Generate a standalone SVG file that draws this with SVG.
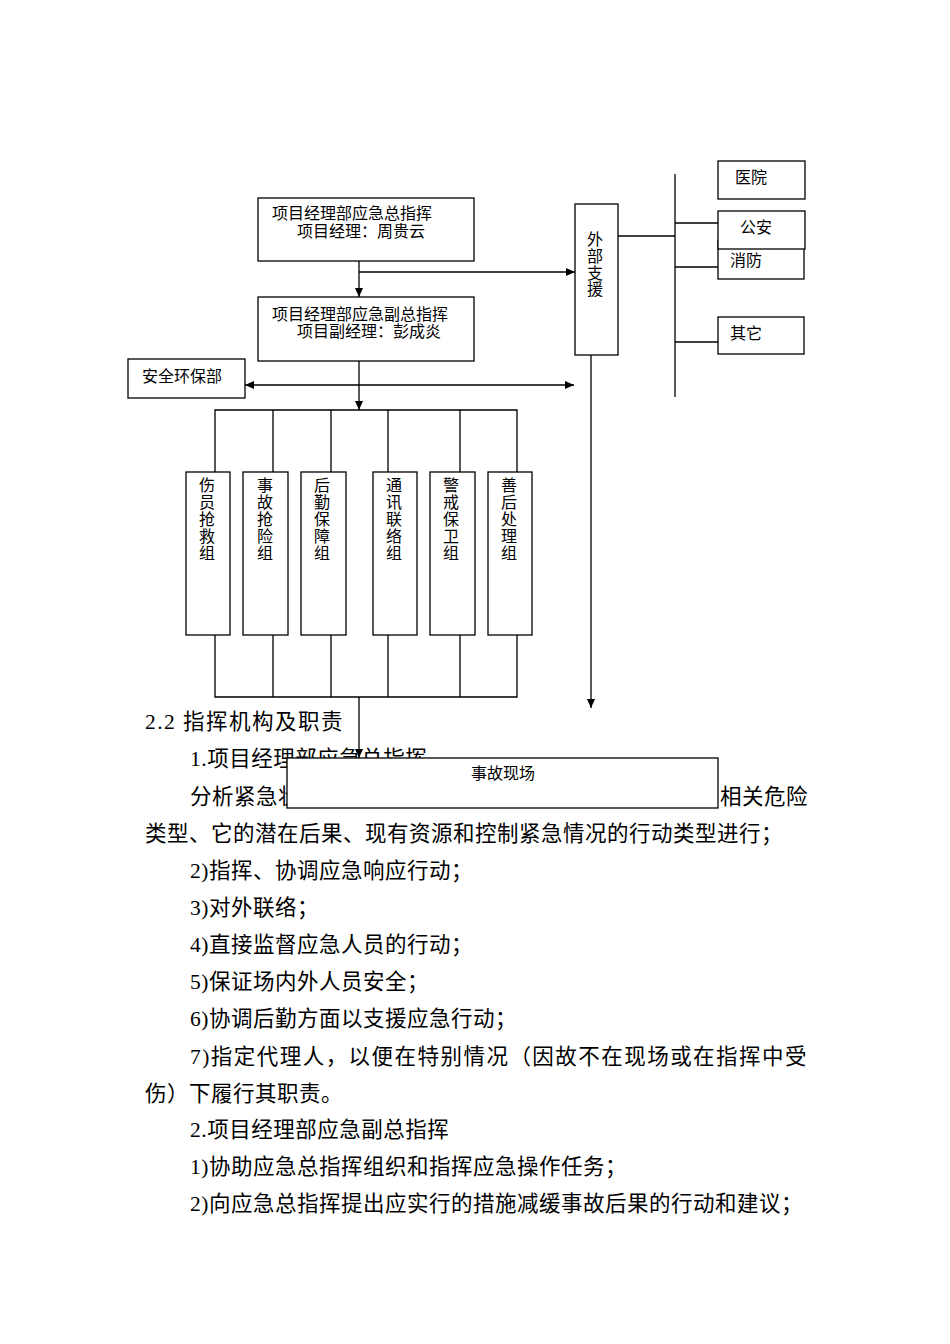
<svg xmlns="http://www.w3.org/2000/svg" width="950" height="1344" viewBox="0 0 950 1344">
<style>
.bx{fill:#fff;stroke:#000;stroke-width:1.3}
.ln{fill:none;stroke:#000;stroke-width:1.3}
.nt{font-family:"Liberation Serif","Noto Sans CJK SC",serif;font-size:16px;fill:#000}
.vt{font-family:"Liberation Serif","Noto Sans CJK SC",serif;font-size:16px;fill:#000;text-anchor:middle}
.bt{font-family:"Liberation Serif","Noto Sans CJK SC",serif;font-size:21.5px;letter-spacing:0.5px;fill:#000}
</style>
<defs>
<marker id="ah" markerUnits="userSpaceOnUse" markerWidth="10" markerHeight="10" refX="9" refY="4" orient="auto-start-reverse">
<path d="M0,0 L9,4 L0,8 Z" fill="#000"/>
</marker>
</defs>
<rect width="950" height="1344" fill="#fff"/>

<g id="body-text">
<text class="bt" x="145" y="729" font-size="22" textLength="198" lengthAdjust="spacing">2.2 指挥机构及职责</text>
<text class="bt" x="190" y="766">1.项目经理部应急总指挥</text>
<text class="bt" x="190" y="804">分析紧急状态</text>
<text class="bt" x="720" y="804">相关危险</text>
<text class="bt" x="145" y="841">类型、它的潜在后果、现有资源和控制紧急情况的行动类型进行；</text>
<text class="bt" x="190" y="878">2)指挥、协调应急响应行动；</text>
<text class="bt" x="190" y="915">3)对外联络；</text>
<text class="bt" x="190" y="952">4)直接监督应急人员的行动；</text>
<text class="bt" x="190" y="989">5)保证场内外人员安全；</text>
<text class="bt" x="190" y="1026">6)协调后勤方面以支援应急行动；</text>
<text class="bt" x="190" y="1064" textLength="617" lengthAdjust="spacing">7)指定代理人，以便在特别情况（因故不在现场或在指挥中受</text>
<text class="bt" x="145" y="1101">伤）下履行其职责。</text>
<text class="bt" x="190" y="1137">2.项目经理部应急副总指挥</text>
<text class="bt" x="190" y="1174">1)协助应急总指挥组织和指挥应急操作任务；</text>
<text class="bt" x="190" y="1211">2)向应急总指挥提出应实行的措施减缓事故后果的行动和建议；</text>
</g>

<g id="connectors">
<line class="ln" x1="359" y1="261" x2="359" y2="297" marker-end="url(#ah)"/>
<line class="ln" x1="359" y1="272" x2="575" y2="272" marker-end="url(#ah)"/>
<line class="ln" x1="359" y1="361" x2="359" y2="410" marker-end="url(#ah)"/>
<line class="ln" x1="245" y1="385" x2="574" y2="385" marker-start="url(#ah)" marker-end="url(#ah)"/>
<line class="ln" x1="591" y1="355" x2="591" y2="708" marker-end="url(#ah)"/>
<line class="ln" x1="618" y1="236" x2="675" y2="236"/>
<line class="ln" x1="675" y1="174" x2="675" y2="397"/>
<line class="ln" x1="675" y1="223" x2="718" y2="223"/>
<line class="ln" x1="675" y1="267" x2="718" y2="267"/>
<line class="ln" x1="675" y1="342" x2="718" y2="342"/>
<path class="ln" d="M215,472 V410 H517 V472 M273,410 V472 M331,410 V472 M388,410 V472 M460,410 V472"/>
<path class="ln" d="M215,635 V697 H517 V635 M273,697 V635 M331,697 V635 M388,697 V635 M460,697 V635"/>
<line class="ln" x1="359" y1="697" x2="359" y2="758" marker-end="url(#ah)"/>
</g>

<g id="n-zongzhihui">
<rect class="bx" x="258" y="198" width="216" height="63"/>
<text class="nt" x="272" y="219">项目经理部应急总指挥</text>
<text class="nt" x="297" y="237">项目经理：周贵云</text>
</g>
<g id="n-fuzongzhihui">
<rect class="bx" x="258" y="297" width="216" height="64"/>
<text class="nt" x="272" y="320">项目经理部应急副总指挥</text>
<text class="nt" x="297" y="337">项目副经理：彭成炎</text>
</g>
<g id="n-waibu">
<rect class="bx" x="575" y="204" width="43" height="151"/>
<text class="vt" x="595" y="245">外</text>
<text class="vt" x="595" y="262">部</text>
<text class="vt" x="595" y="279">支</text>
<text class="vt" x="595" y="295">援</text>
</g>
<g id="n-yiyuan">
<rect class="bx" x="718" y="161" width="87" height="38"/>
<text class="nt" x="735" y="183">医院</text>
</g>
<g id="n-xiaofang">
<rect class="bx" x="718" y="240" width="86" height="39"/>
<text class="nt" x="730" y="266">消防</text>
</g>
<g id="n-gongan">
<rect class="bx" x="718" y="211" width="87" height="38"/>
<text class="nt" x="740" y="233">公安</text>
</g>
<g id="n-qita">
<rect class="bx" x="718" y="317" width="86" height="37"/>
<text class="nt" x="730" y="339">其它</text>
</g>
<g id="n-anquan">
<rect class="bx" x="128" y="359" width="117" height="39"/>
<text class="nt" x="142" y="382">安全环保部</text>
</g>

<g id="n-g1">
<rect class="bx" x="186" y="472" width="44" height="163"/>
<text class="vt" x="207" y="491">伤</text><text class="vt" x="207" y="508">员</text><text class="vt" x="207" y="525">抢</text><text class="vt" x="207" y="542">救</text><text class="vt" x="207" y="559">组</text>
</g>
<g id="n-g2">
<rect class="bx" x="243" y="472" width="45" height="163"/>
<text class="vt" x="265" y="491">事</text><text class="vt" x="265" y="508">故</text><text class="vt" x="265" y="525">抢</text><text class="vt" x="265" y="542">险</text><text class="vt" x="265" y="559">组</text>
</g>
<g id="n-g3">
<rect class="bx" x="301" y="472" width="45" height="163"/>
<text class="vt" x="322" y="491">后</text><text class="vt" x="322" y="508">勤</text><text class="vt" x="322" y="525">保</text><text class="vt" x="322" y="542">障</text><text class="vt" x="322" y="559">组</text>
</g>
<g id="n-g4">
<rect class="bx" x="373" y="472" width="44" height="163"/>
<text class="vt" x="394" y="491">通</text><text class="vt" x="394" y="508">讯</text><text class="vt" x="394" y="525">联</text><text class="vt" x="394" y="542">络</text><text class="vt" x="394" y="559">组</text>
</g>
<g id="n-g5">
<rect class="bx" x="430" y="472" width="45" height="163"/>
<text class="vt" x="451" y="491">警</text><text class="vt" x="451" y="508">戒</text><text class="vt" x="451" y="525">保</text><text class="vt" x="451" y="542">卫</text><text class="vt" x="451" y="559">组</text>
</g>
<g id="n-g6">
<rect class="bx" x="488" y="472" width="44" height="163"/>
<text class="vt" x="509" y="491">善</text><text class="vt" x="509" y="508">后</text><text class="vt" x="509" y="525">处</text><text class="vt" x="509" y="542">理</text><text class="vt" x="509" y="559">组</text>
</g>

<g id="n-xianchang">
<rect class="bx" x="287" y="758" width="431" height="50"/>
<text class="nt" x="503" y="779" font-size="15" text-anchor="middle">事故现场</text>
</g>
</svg>
